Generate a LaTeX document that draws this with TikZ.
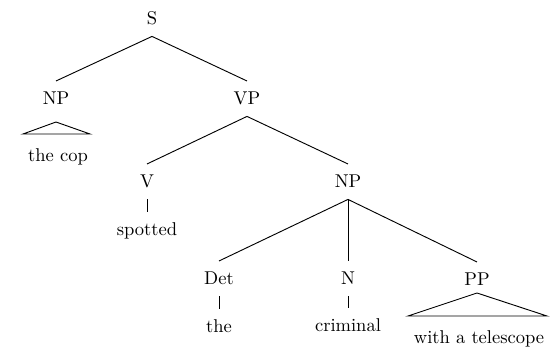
\documentclass[tikz,border=0pt]{standalone}
\begin{document}
\begin{tikzpicture}[x=0.54pt,y=-0.54pt,
  cat/.style={anchor=base,inner xsep=0pt,inner ysep=5.4pt,text height=6.83pt,text depth=1.1pt},
  word/.style={anchor=base,inner xsep=0pt,inner ysep=5.4pt,text height=6.94pt,text depth=1.94pt},
  branch/.style={line width=0.5pt}]
\useasboundingbox (0,0) rectangle (555,347);

% categories
\node[cat] (S)   at (152,24)  {S};
\node[cat] (NPa) at (56,104)  {NP};
\node[cat] (VP)  at (247,104) {VP};
\node[cat] (V)   at (147,187) {V};
\node[cat] (NPb) at (348,187) {NP};
\node[cat] (Det) at (219,284) {Det};
\node[cat] (N)   at (348,284) {N};
\node[cat] (PP)  at (477,285) {PP};

% words
\node[word] (cop)   at (58,161)  {the cop};
\node[word] (spot)  at (147,235) {spotted};
\node[word] (the)   at (219,332) {the};
\node[word] (crim)  at (348,331) {criminal};
\node[word] (tele)  at (479,343) {with a telescope};

% branches
\draw[branch] (S.south) -- (NPa.north);
\draw[branch] (S.south) -- (VP.north);
\draw[branch] (VP.south) -- (V.north);
\draw[branch] (VP.south) -- (NPb.north);
\draw[branch] (V.south) -- (spot.north);
\draw[branch] (NPb.south) -- (Det.north);
\draw[branch] (NPb.south) -- (N.north);
\draw[branch] (NPb.south) -- (PP.north);
\draw[branch] (Det.south) -- (the.north);
\draw[branch] (N.south) -- (crim.north);

% roofs over unanalysed phrases
\coordinate (copTop) at (56,122);
\coordinate (copL) at (23,134);
\coordinate (copR) at (90,134);
\draw[branch] (copL) -- (copTop) -- (copR) -- cycle;
\coordinate (teleTop) at (477,293);
\coordinate (teleL) at (408,316);
\coordinate (teleR) at (547,316);
\draw[branch] (teleL) -- (teleTop) -- (teleR) -- cycle;
\end{tikzpicture}
\end{document}
